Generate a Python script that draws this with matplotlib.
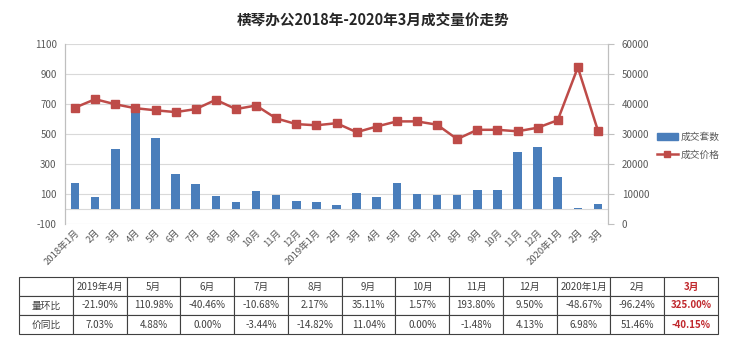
import numpy as np
import matplotlib
matplotlib.use('Agg')
import matplotlib.pyplot as plt
from matplotlib.lines import Line2D
from matplotlib.patches import Patch

plt.rcParams['font.family'] = ['Noto Sans CJK SC', 'DejaVu Sans']
plt.rcParams['axes.unicode_minus'] = False

# data
months = ['2018年1月', '2月', '3月', '4月', '5月', '6月', '7月', '8月', '9月', '10月', '11月', '12月',
          '2019年1月', '2月', '3月', '4月', '5月', '6月', '7月', '8月', '9月', '10月', '11月', '12月',
          '2020年1月', '2月', '3月']
volume = [173, 82, 400, 660, 471, 233, 164, 87, 49, 120, 96, 53,
          44, 24, 105, 82, 173, 103, 92, 94, 127, 129, 379, 415,
          213, 8, 34]
price = [38800, 41600, 39900, 38600, 37900, 37300, 38300, 41400, 38300, 39500, 35200, 33300,
         32900, 33600, 30600, 32500, 34200, 34200, 33100, 28300, 31400, 31400, 30900, 32100,
         34600, 52200, 31100]

tbl_cols = ['2019年4月', '5月', '6月', '7月', '8月', '9月', '10月', '11月', '12月', '2020年1月', '2月', '3月']
ring = ['-21.90%', '110.98%', '-40.46%', '-10.68%', '2.17%', '35.11%', '1.57%', '193.80%', '9.50%',
        '-48.67%', '-96.24%', '325.00%']
yoy = ['7.03%', '4.88%', '0.00%', '-3.44%', '-14.82%', '11.04%', '0.00%', '-1.48%', '4.13%',
       '6.98%', '51.46%', '-40.15%']

W, H = 740, 341
fig = plt.figure(figsize=(W / 100, H / 100), dpi=100)
ax = fig.add_axes([65 / W, 1 - 224 / H, (608 - 65) / W, (224 - 44) / H])
ax2 = ax.twinx()

x = np.arange(len(months))
grey = '#595959'
ax.set_ylim(-100, 1100)
ax.set_yticks(np.arange(-100, 1101, 200))
ax.grid(axis='y', color='#d9d9d9', linewidth=0.8)
ax.set_axisbelow(True)
ax.bar(x, volume, width=0.43, color='#4a7ebb', zorder=2)
ax.axhline(0, color='#d9d9d9', linewidth=0.8, zorder=1)
ax.set_xlim(-0.5, len(months) - 0.5)
ax.set_xticks(x)
ax.set_xticklabels(months, rotation=45, ha='right', va='top', rotation_mode='anchor')
ax.tick_params(axis='x', length=0, labelsize=6.8, labelcolor=grey, pad=3)
ax.tick_params(axis='y', length=0, labelsize=7, labelcolor=grey, pad=6)

ax2.set_ylim(0, 60000)
ax2.set_yticks(np.arange(0, 60001, 10000))
ax2.plot(x, price, color='#be4b48', linewidth=1.8, marker='s', markersize=5.2, zorder=3)
ax2.tick_params(axis='y', length=4, color='#bfbfbf', labelsize=7, labelcolor=grey, pad=6)

for a in (ax, ax2):
    a.spines['top'].set_visible(False)
    a.spines['bottom'].set_visible(False)
    a.spines['left'].set_color('#bfbfbf')
    a.spines['right'].set_color('#bfbfbf')

fig.text(373 / W, 1 - 21 / H, '横琴办公2018年-2020年3月成交量价走势', ha='center', va='center',
         fontsize=10.5, fontweight='bold', color='#262626')

handles = [Patch(color='#4a7ebb'), Line2D([0], [0], color='#be4b48', linewidth=1.8, marker='s', markersize=4)]
fig.legend(handles, ['成交套数', '成交价格'], loc='center left', bbox_to_anchor=(648 / W, 1 - 146 / H),
           frameon=False, fontsize=7, handlelength=2.2, handletextpad=0.3, labelspacing=0.8,
           labelcolor=grey)

# table below the chart
tax = fig.add_axes([19 / W, 1 - 334 / H, (718 - 19) / W, (334 - 277) / H])
tax.axis('off')
cells = [[''] + tbl_cols, ['量环比'] + ring, ['价同比'] + yoy]
table = tax.table(cellText=cells, cellLoc='center', bbox=[0, 0, 1, 1])
table.auto_set_font_size(False)
for (r, c), cell in table.get_celld().items():
    cell.set_edgecolor('#404040')
    cell.set_linewidth(0.8)
    cell.get_text().set_fontsize(7)
    cell.get_text().set_color('#404040')
    if c == len(tbl_cols):
        cell.get_text().set_color('#c0282d')
        cell.get_text().set_fontweight('bold')

fig.savefig('out.png', dpi=100, facecolor='white')
